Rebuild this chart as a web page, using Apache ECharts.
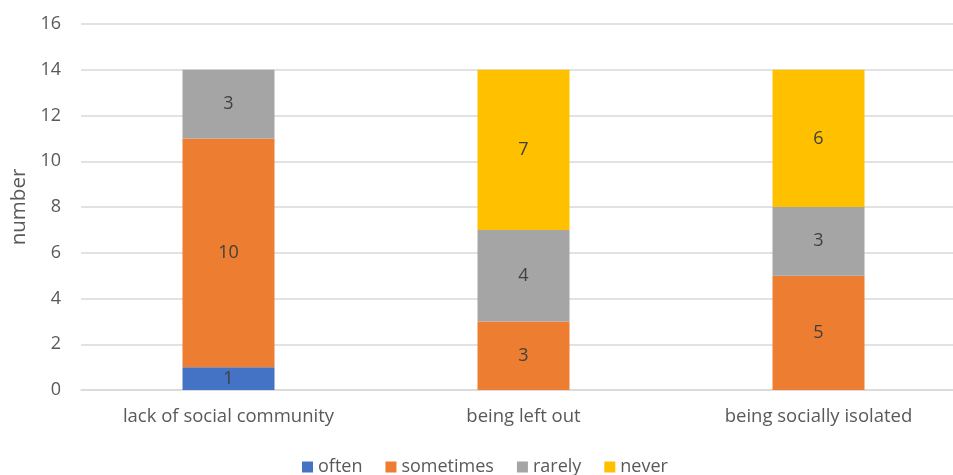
<!DOCTYPE html>
<html>
<head>
<meta charset="utf-8">
<script src="https://cdn.jsdelivr.net/npm/echarts@6/dist/echarts.min.js"></script>
<style>
  html, body { margin: 0; padding: 0; background: #fff; overflow: hidden; }
  #chart { width: 953px; height: 475px; }
</style>
</head>
<body>
<div id="chart"></div>
<script>
// Categories and stacked counts per response
const categories = ['lack of social community', 'being left out', 'being socially isolated'];
const often = [1, 0, 0];
const sometimes = [10, 3, 5];
const rarely = [3, 4, 3];
const never = [0, 7, 6];
const yTicks = [0, 2, 4, 6, 8, 10, 12, 14, 16];

const FONT = '"Open Sans", "Liberation Sans", sans-serif';

const seriesDefs = [
  { name: 'often', data: often, color: '#4472C4' },
  { name: 'sometimes', data: sometimes, color: '#ED7D31' },
  { name: 'rarely', data: rarely, color: '#A5A5A5' },
  { name: 'never', data: never, color: '#FFC000' }
];

const chart = echarts.init(document.getElementById('chart'), null, { renderer: 'canvas' });

chart.setOption({
  animation: false,
  backgroundColor: '#ffffff',
  textStyle: { fontFamily: FONT },
  grid: {
    left: 81, top: 24, width: 885, height: 366,
    containLabel: false,
    outerBoundsMode: 'none'
  },
  legend: {
    top: 453,
    left: 297,
    itemWidth: 11,
    itemHeight: 11,
    itemGap: 23,
    icon: 'rect',
    textStyle: { fontFamily: FONT, fontSize: 18, color: '#595959' },
    data: seriesDefs.map(s => s.name)
  },
  xAxis: {
    type: 'category',
    data: categories,
    axisLine: { lineStyle: { color: '#d9d9d9', width: 1.5 } },
    axisTick: { show: false },
    axisLabel: { fontFamily: FONT, fontSize: 18.5, color: '#595959', margin: 17 }
  },
  yAxis: {
    type: 'value',
    min: yTicks[0],
    max: yTicks[yTicks.length - 1],
    interval: 2,
    name: 'number',
    nameLocation: 'middle',
    nameGap: 49,
    nameTextStyle: { fontFamily: FONT, fontSize: 20.5, color: '#595959' },
    axisLine: { show: false },
    axisTick: { show: false },
    splitLine: { lineStyle: { color: '#d9d9d9', width: 1.5 } },
    axisLabel: { fontFamily: FONT, fontSize: 18, color: '#595959', margin: 20 }
  },
  series: seriesDefs.map(s => ({
    name: s.name,
    type: 'bar',
    stack: 'total',
    barWidth: 92,
    data: s.data,
    itemStyle: { color: s.color },
    label: {
      show: true,
      position: 'inside',
      fontFamily: FONT,
      fontSize: 18,
      color: '#404040',
      formatter: p => (p.value ? String(p.value) : '')
    }
  }))
});
</script>
</body>
</html>
